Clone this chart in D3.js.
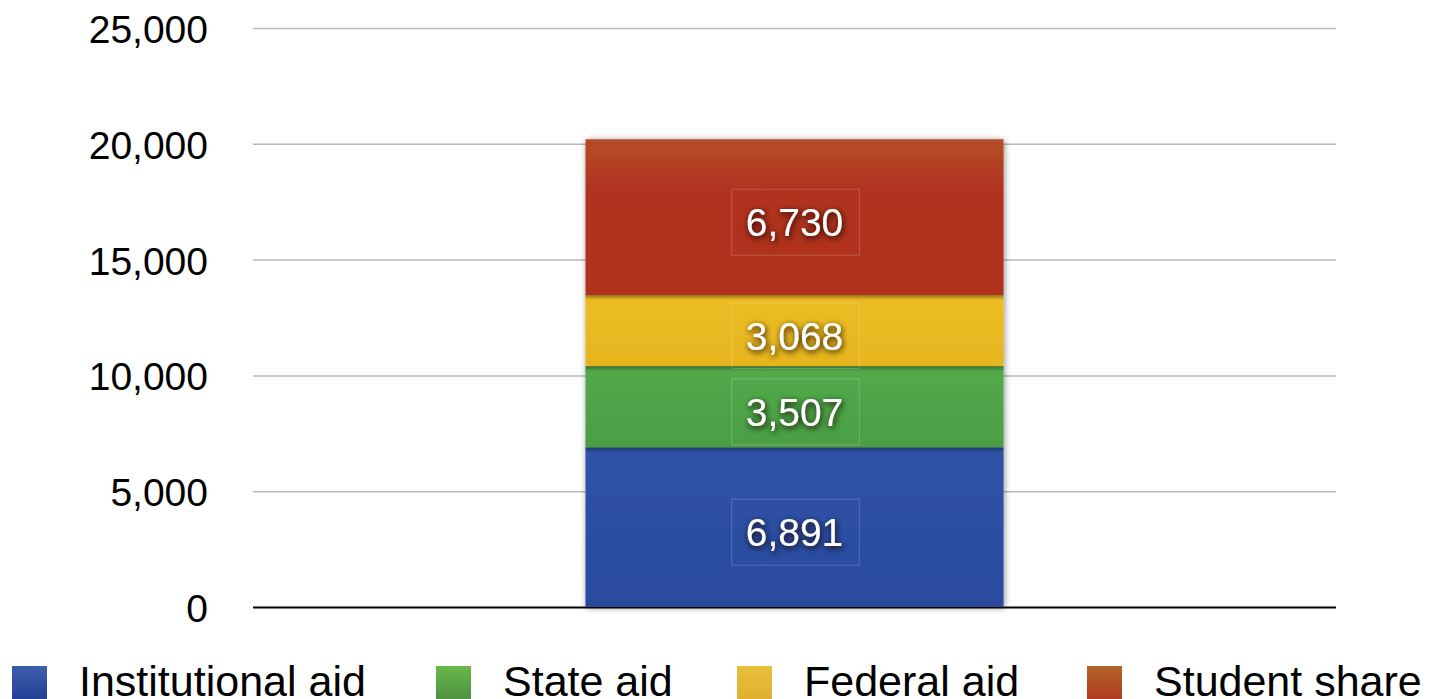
<!DOCTYPE html>
<html>
<head>
<meta charset="utf-8">
<script src="https://cdn.jsdelivr.net/npm/d3@7"></script>
<style>
  html, body { margin: 0; padding: 0; background: #fff; }
  svg { display: block; font-family: "Liberation Sans", Arial, Helvetica, sans-serif; }
</style>
</head>
<body>
<svg width="1429" height="699"></svg>
<script>
// data
var categories = ["Cost"];
var seriesNames = ["Institutional aid", "State aid", "Federal aid", "Student share"];
var seriesValues = [6891, 3507, 3068, 6730];
var yTicks = [0, 5000, 10000, 15000, 20000, 25000];

var colors = [
  ["#2f53a6", "#2a4a9e"],
  ["#53aa4a", "#4a9e43"],
  ["#ecbd22", "#e6b51f"],
  ["#b54d26", "#b0321f"]
];
var legendColors = [
  ["#3d5eae", "#223f96"],
  ["#6ab84a", "#4d9142"],
  ["#e8c03d", "#dfae2e"],
  ["#b2652b", "#b03a20"]
];

var svg = d3.select("svg"),
    plotLeft = 253, plotRight = 1336, plotTop = 28, plotBottom = 607;

var x = d3.scaleBand().domain(categories).range([plotLeft, plotRight]).padding(0.443),
    y = d3.scaleLinear().domain([0, 25000]).range([plotBottom, plotTop]);

var defs = svg.append("defs");

colors.forEach(function(c, i) {
  var g = defs.append("linearGradient").attr("id", "seg" + i)
    .attr("x1", 0).attr("y1", 0).attr("x2", 0).attr("y2", 1);
  g.append("stop").attr("offset", "0%").attr("stop-color", c[0]);
  g.append("stop").attr("offset", i === 3 ? "35%" : "100%").attr("stop-color", c[1]);
  g.append("stop").attr("offset", "100%").attr("stop-color", c[1]);
});
legendColors.forEach(function(c, i) {
  var g = defs.append("linearGradient").attr("id", "leg" + i)
    .attr("x1", 0).attr("y1", 0).attr("x2", 0).attr("y2", 1);
  g.append("stop").attr("offset", "0%").attr("stop-color", c[0]);
  g.append("stop").attr("offset", "100%").attr("stop-color", c[1]);
});

var barShadow = defs.append("filter").attr("id", "barShadow")
  .attr("x", "-5%").attr("y", "-5%").attr("width", "110%").attr("height", "110%");
barShadow.append("feDropShadow").attr("dx", 1).attr("dy", 1)
  .attr("stdDeviation", 3).attr("flood-color", "#000").attr("flood-opacity", 0.45);

var textShadow = defs.append("filter").attr("id", "textShadow")
  .attr("x", "-20%").attr("y", "-30%").attr("width", "140%").attr("height", "170%");
textShadow.append("feDropShadow").attr("dx", 1).attr("dy", 2)
  .attr("stdDeviation", 3).attr("flood-color", "#120603").attr("flood-opacity", 1);

// gridlines
svg.append("g")
  .attr("transform", "translate(" + plotLeft + ",0)")
  .call(d3.axisLeft(y).tickValues(yTicks).tickSize(-(plotRight - plotLeft)).tickFormat(""))
  .call(function(g) {
    g.select(".domain").remove();
    g.selectAll(".tick line").attr("stroke", "#b8b8b8").attr("stroke-width", 1.5);
    g.selectAll(".tick").filter(function(d) { return d === 0; }).select("line")
      .attr("stroke", "#000").attr("stroke-width", 2);
  });

// y labels
svg.append("g")
  .attr("transform", "translate(208,0)")
  .call(d3.axisLeft(y).tickValues(yTicks).tickSize(0).tickPadding(0).tickFormat(d3.format(",")))
  .call(function(g) {
    g.select(".domain").remove();
    g.selectAll(".tick text")
      .attr("font-family", "'Liberation Sans', Arial, sans-serif")
      .attr("font-size", 39).attr("fill", "#000").attr("dy", "0.37em");
  });

// stacked bar
var stacked = [];
var acc = 0;
seriesValues.forEach(function(v, i) {
  stacked.push({ name: seriesNames[i], value: v, y0: acc, y1: acc + v, i: i });
  acc += v;
});

var barG = svg.append("g").attr("filter", "url(#barShadow)");
barG.selectAll("rect.seg")
  .data(stacked)
  .enter().append("rect")
  .attr("class", "seg")
  .attr("x", x(categories[0]))
  .attr("width", x.bandwidth())
  .attr("y", function(d) { return y(d.y1); })
  .attr("height", function(d) { return y(d.y0) - y(d.y1); })
  .attr("fill", function(d) { return "url(#seg" + d.i + ")"; });

// soft shadow cast by each upper segment onto the one below
var edgeGrad = defs.append("linearGradient").attr("id", "edgeShade")
  .attr("x1", 0).attr("y1", 0).attr("x2", 0).attr("y2", 1);
edgeGrad.append("stop").attr("offset", "0%").attr("stop-color", "#000").attr("stop-opacity", 0.35);
edgeGrad.append("stop").attr("offset", "100%").attr("stop-color", "#000").attr("stop-opacity", 0);
svg.append("g").selectAll("rect.edge")
  .data(stacked.slice(0, 3))
  .enter().append("rect")
  .attr("x", x(categories[0]))
  .attr("width", x.bandwidth())
  .attr("y", function(d) { return y(d.y1); })
  .attr("height", 5)
  .attr("fill", "url(#edgeShade)");

// value labels
var cx = x(categories[0]) + x.bandwidth() / 2;
var labelG = svg.append("g");
stacked.forEach(function(d) {
  var cy = (y(d.y0) + y(d.y1)) / 2 + 5;
  var g = labelG.append("g");
  var box = g.append("rect");
  var t = g.append("text")
    .attr("x", cx).attr("y", cy)
    .attr("text-anchor", "middle").attr("dy", "0.36em")
    .attr("font-size", 39).attr("fill", "#fff")
    .attr("filter", "url(#textShadow)")
    .text(d3.format(",")(d.value));
  var bb = t.node().getBBox();
  box.attr("x", bb.x - 14).attr("y", cy - 33)
    .attr("width", bb.width + 30).attr("height", 66)
    .attr("fill", "none").attr("stroke", "rgba(255,255,255,0.2)").attr("stroke-width", 1);
});

// legend
var legendX = [12, 436, 737, 1087];
var legend = svg.append("g").selectAll("g")
  .data(seriesNames)
  .enter().append("g")
  .attr("transform", function(d, i) { return "translate(" + legendX[i] + ",0)"; });
legend.append("rect")
  .attr("x", 0).attr("y", 666).attr("width", 35).attr("height", 34)
  .attr("fill", function(d, i) { return "url(#leg" + i + ")"; });
legend.append("text")
  .attr("x", 67)
  .attr("y", 696)
  .attr("font-size", 43).attr("fill", "#000")
  .text(function(d) { return d; });
</script>
</body>
</html>
